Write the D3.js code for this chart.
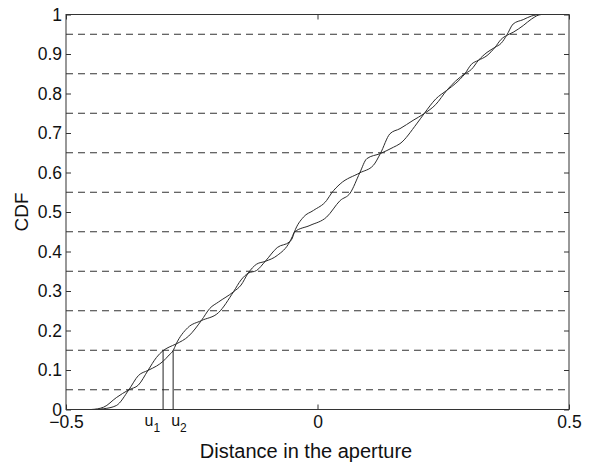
<!DOCTYPE html>
<html>
<head>
<meta charset="utf-8">
<script src="https://cdn.jsdelivr.net/npm/d3@7"></script>
<style>
  body { margin: 0; background: #fff; }
  svg { display: block; font-family: "Liberation Sans", Arial, sans-serif; }
  .curve { fill: none; stroke: #2b2b2b; stroke-width: 1; }
  .level { stroke: #333; stroke-width: 1; stroke-dasharray: 7, 5; }
  .marker { stroke: #222; stroke-width: 1; }
  .axis path { display: none; }
  .axis line { stroke: #333; }
  .axis text { font-size: 17.5px; fill: #111; }
</style>
</head>
<body>
<svg width="590" height="463"></svg>
<script>
// values
const yTicks = [0, 0.1, 0.2, 0.3, 0.4, 0.5, 0.6, 0.7, 0.8, 0.9, 1];
const yTickLabels = ["0", "0.1", "0.2", "0.3", "0.4", "0.5", "0.6", "0.7", "0.8", "0.9", "1"];
const xTicks = [-0.5, 0, 0.5];
const xTickLabels = ["\u22120.5", "0", "0.5"];

// quantile levels (dashed lines)
const levels = [0.05, 0.15, 0.25, 0.35, 0.45, 0.55, 0.65, 0.75, 0.85, 0.95];

// first CDF curve
const cdfAx = [-0.5, -0.45, -0.425, -0.4, -0.375, -0.356, -0.337, -0.32, -0.307, -0.295, -0.281,
  -0.256, -0.231, -0.214, -0.197, -0.167, -0.152, -0.138, -0.121, -0.104, -0.08, -0.055, -0.05,
  -0.046, -0.015, 0.018, 0.045, 0.065, 0.084, 0.098, 0.125, 0.151, 0.164, 0.197, 0.212, 0.235,
  0.257, 0.275, 0.293, 0.306, 0.32, 0.337, 0.353, 0.365, 0.376, 0.389, 0.409, 0.426, 0.445, 0.5];
const cdfAy = [0, 0, 0.006, 0.03, 0.05, 0.062, 0.099, 0.132, 0.149, 0.158, 0.166,
  0.186, 0.225, 0.256, 0.272, 0.298, 0.315, 0.345, 0.368, 0.375, 0.39, 0.425, 0.438,
  0.449, 0.466, 0.487, 0.529, 0.548, 0.599, 0.635, 0.648, 0.664, 0.673, 0.723, 0.749, 0.786,
  0.808, 0.826, 0.85, 0.874, 0.884, 0.896, 0.917, 0.937, 0.947, 0.955, 0.972, 0.989, 1, 1];

// second CDF curve
const cdfBx = [-0.5, -0.45, -0.425, -0.4, -0.375, -0.356, -0.337, -0.32, -0.307, -0.295, -0.287,
  -0.281, -0.258, -0.231, -0.197, -0.167, -0.152, -0.138, -0.121, -0.104, -0.08, -0.055, -0.05,
  -0.046, -0.028, -0.008, 0.018, 0.028, 0.045, 0.084, 0.111, 0.125, 0.144, 0.164, 0.19, 0.212,
  0.235, 0.257, 0.275, 0.293, 0.306, 0.32, 0.337, 0.353, 0.365, 0.376, 0.389, 0.409, 0.425, 0.445, 0.5];
const cdfBy = [0, 0, 0.002, 0.01, 0.05, 0.086, 0.099, 0.11, 0.122, 0.138, 0.149,
  0.166, 0.207, 0.225, 0.245, 0.298, 0.328, 0.345, 0.352, 0.375, 0.41, 0.425, 0.434,
  0.449, 0.487, 0.504, 0.529, 0.548, 0.571, 0.599, 0.618, 0.648, 0.698, 0.711, 0.732, 0.749,
  0.772, 0.808, 0.832, 0.85, 0.861, 0.884, 0.904, 0.917, 0.927, 0.947, 0.976, 0.987, 0.996, 1, 1];

// u1, u2 : where each curve hits 0.15
const uX = [-0.307, -0.287];
const uNames = ["1", "2"];
const uLevel = 0.15;

let svg = d3.select("svg"),
  width = +svg.attr("width"),
  height = +svg.attr("height");

let margin = { top: 14.5, right: 21, bottom: 53.5, left: 66 };
let plotW = width - margin.left - margin.right,
  plotH = height - margin.top - margin.bottom;

let x = d3.scaleLinear().domain([-0.5, 0.5]).range([0, plotW]);
let y = d3.scaleLinear().domain([0, 1]).range([plotH, 0]);

let g = svg
  .append("g")
  .attr("transform", "translate(" + margin.left + "," + margin.top + ")");

// dashed quantile levels
g.append("g")
  .selectAll("line")
  .data(levels)
  .enter()
  .append("line")
  .attr("class", "level")
  .attr("x1", x(-0.5))
  .attr("x2", x(0.5))
  .attr("y1", function (d) {
    return y(d);
  })
  .attr("y2", function (d) {
    return y(d);
  });

let line = d3
  .line()
  .x(function (d) {
    return x(d[0]);
  })
  .y(function (d) {
    return y(d[1]);
  })
  .curve(d3.curveMonotoneX);

let curveA = d3.zip(cdfAx, cdfAy);
let curveB = d3.zip(cdfBx, cdfBy);

g.append("g")
  .selectAll("path")
  .data([curveA, curveB])
  .enter()
  .append("path")
  .attr("class", "curve")
  .attr("d", line);

// vertical markers at u1, u2
g.append("g")
  .selectAll("line")
  .data(uX)
  .enter()
  .append("line")
  .attr("class", "marker")
  .attr("x1", function (d) {
    return x(d);
  })
  .attr("x2", function (d) {
    return x(d);
  })
  .attr("y1", y(0))
  .attr("y2", y(uLevel));

// axes, matlab style ticks pointing in
g.append("g")
  .attr("class", "axis")
  .call(
    d3.axisLeft(y)
      .tickValues(yTicks)
      .tickSize(-5)
      .tickPadding(4)
      .tickFormat(function (d, i) {
        return yTickLabels[i];
      })
  );

g.append("g")
  .attr("class", "axis")
  .attr("transform", "translate(" + plotW + ",0)")
  .call(d3.axisRight(y).tickValues(yTicks).tickSize(-5).tickFormat(""));

g.append("g")
  .attr("class", "axis")
  .attr("transform", "translate(0," + plotH + ")")
  .call(
    d3.axisBottom(x)
      .tickValues(xTicks)
      .tickSize(-5)
      .tickPadding(6)
      .tickFormat(function (d, i) {
        return xTickLabels[i];
      })
  );

g.append("g")
  .attr("class", "axis")
  .call(d3.axisTop(x).tickValues(xTicks).tickSize(-5).tickFormat(""));

g.append("rect")
  .attr("width", plotW)
  .attr("height", plotH)
  .attr("fill", "none")
  .attr("stroke", "#333")
  .attr("stroke-width", 1);

// u labels under the markers
let uLabel = g
  .append("g")
  .selectAll("text")
  .data(uX)
  .enter()
  .append("text")
  .attr("x", function (d, i) {
    return i === 0 ? x(d) - 3 : x(d) - 2;
  })
  .attr("y", plotH + 16)
  .attr("text-anchor", function (d, i) {
    return i === 0 ? "end" : "start";
  })
  .attr("font-size", 16)
  .attr("fill", "#111");

uLabel.append("tspan").text("u");
uLabel
  .append("tspan")
  .attr("dy", 6)
  .attr("font-size", 12)
  .text(function (d, i) {
    return uNames[i];
  });

// axis titles
svg
  .append("text")
  .attr("x", 306)
  .attr("y", 458)
  .attr("text-anchor", "middle")
  .attr("font-size", 20)
  .attr("fill", "#111")
  .text("Distance in the aperture");

svg
  .append("text")
  .attr("transform", "translate(28," + (margin.top + plotH / 2) + ") rotate(-90)")
  .attr("text-anchor", "middle")
  .attr("font-size", 19)
  .attr("fill", "#111")
  .text("CDF");
</script>
</body>
</html>
